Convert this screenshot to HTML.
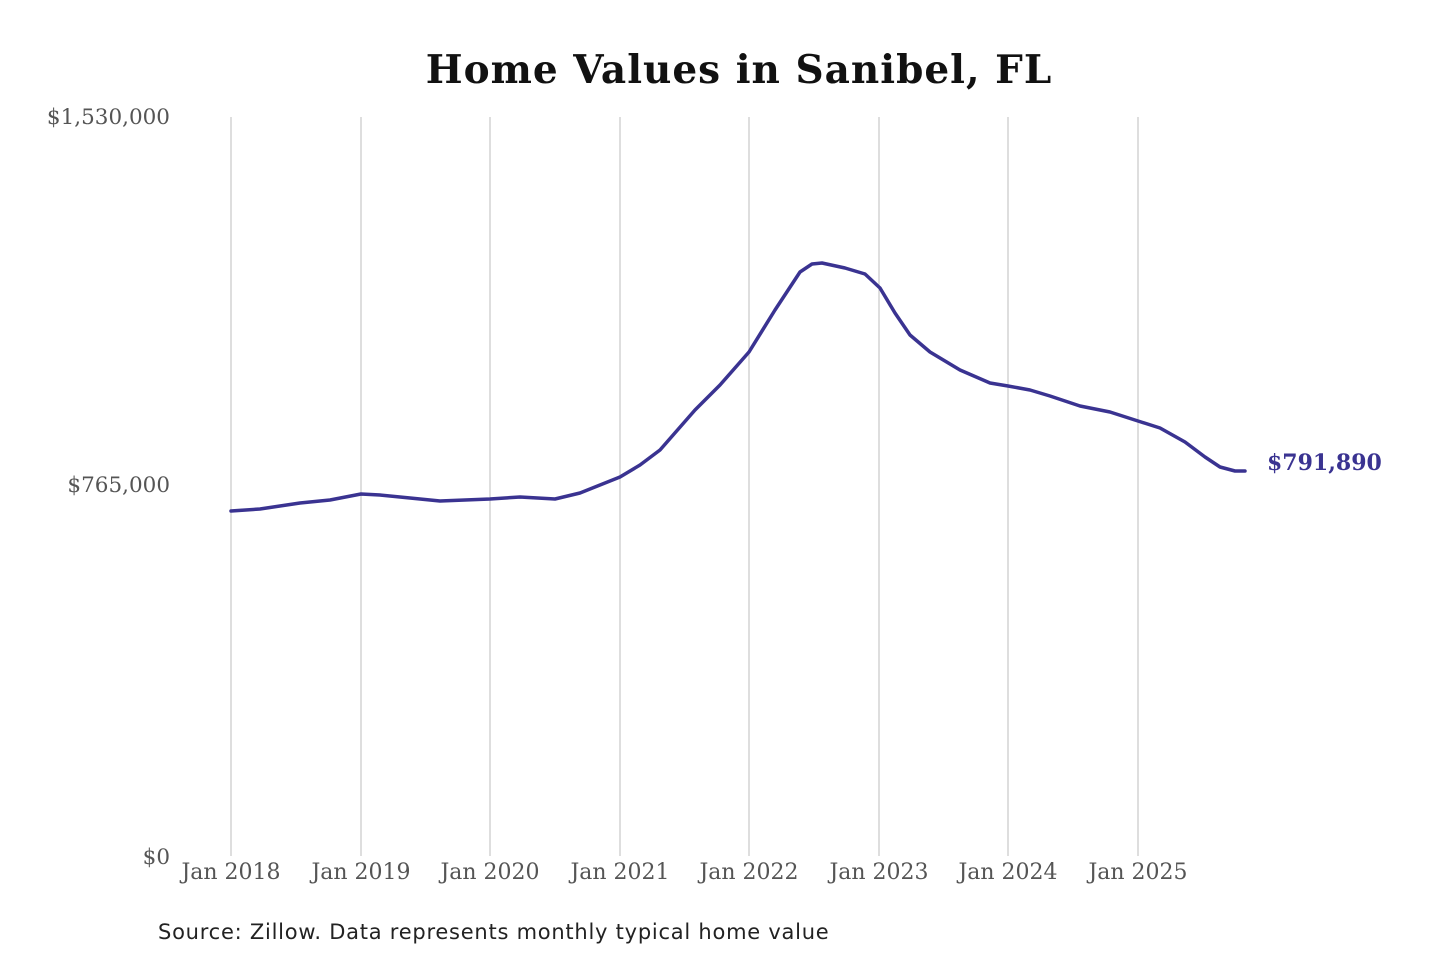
<!DOCTYPE html>
<html><head><meta charset="utf-8"><style>
html,body{margin:0;padding:0;background:#fff;width:1440px;height:960px;overflow:hidden}
</style></head><body>
<svg width="1440" height="960" xmlns="http://www.w3.org/2000/svg">
<rect width="1440" height="960" fill="#fff"/>
<text x="739" y="83" text-anchor="middle" font-family="DejaVu Serif, Liberation Serif, serif" font-weight="bold" font-size="39" letter-spacing="1" fill="#111">Home Values in Sanibel, FL</text>
<g stroke="#c8c8c8" stroke-width="1.2">
<line x1="231" y1="117" x2="231" y2="856"/>
<line x1="361" y1="117" x2="361" y2="856"/>
<line x1="490" y1="117" x2="490" y2="856"/>
<line x1="620" y1="117" x2="620" y2="856"/>
<line x1="749" y1="117" x2="749" y2="856"/>
<line x1="879" y1="117" x2="879" y2="856"/>
<line x1="1008" y1="117" x2="1008" y2="856"/>
<line x1="1138" y1="117" x2="1138" y2="856"/>
</g>
<g font-family="DejaVu Serif, Liberation Serif, serif" font-size="21.5" fill="#555" text-anchor="end">
<text x="170" y="124">$1,530,000</text>
<text x="170" y="492">$765,000</text>
<text x="170" y="864">$0</text>
</g>
<g font-family="DejaVu Serif, Liberation Serif, serif" font-size="22" fill="#555" text-anchor="middle">
<text x="231" y="879">Jan 2018</text>
<text x="361" y="879">Jan 2019</text>
<text x="490" y="879">Jan 2020</text>
<text x="620" y="879">Jan 2021</text>
<text x="749" y="879">Jan 2022</text>
<text x="879" y="879">Jan 2023</text>
<text x="1008" y="879">Jan 2024</text>
<text x="1138" y="879">Jan 2025</text>
</g>
<polyline fill="none" stroke="#3a3391" stroke-width="3.5" stroke-linejoin="round" stroke-linecap="round" points="231,511 260,509 300,503 330,500 361,494 380,495 410,498 440,501 490,499 520,497 555,499 580,493 620,477 640,465 660,450 695,410 720,385 749,352 775,310 800,272 812,264 822,263 845,268 865,274 880,288 895,313 910,335 930,352 960,370 990,383 1008,386 1030,390 1050,396 1080,406 1110,412 1138,421 1160,428 1185,442 1205,457 1220,467 1235,471 1245,471"/>
<text x="1267" y="470" font-family="DejaVu Serif, Liberation Serif, serif" font-weight="bold" font-size="22" fill="#3a3391">$791,890</text>
<text x="158" y="939" font-family="DejaVu Sans, Liberation Sans, sans-serif" font-size="21" letter-spacing="0.75" fill="#222">Source: Zillow. Data represents monthly typical home value</text>
</svg>
</body></html>
